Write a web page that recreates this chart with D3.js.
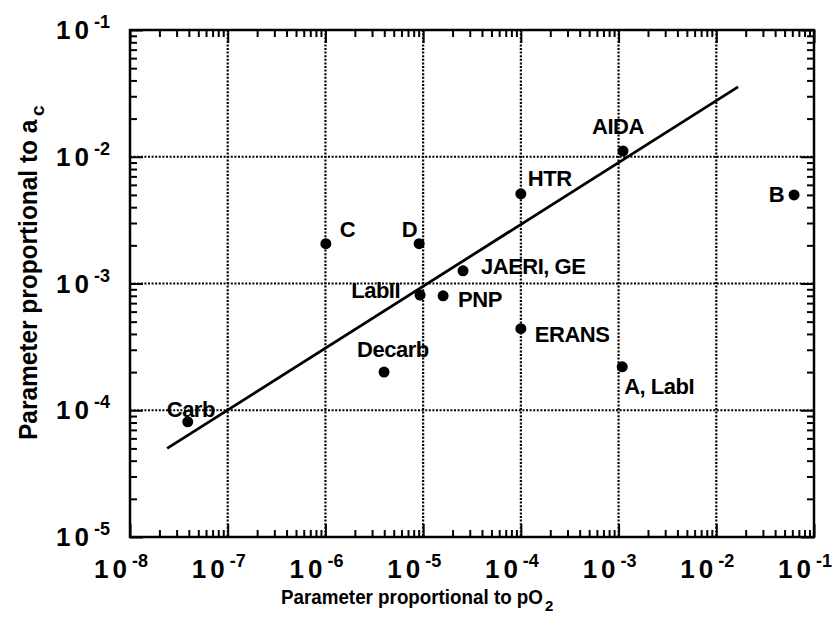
<!DOCTYPE html>
<html><head><meta charset="utf-8">
<script src="https://cdn.jsdelivr.net/npm/d3@7/dist/d3.min.js"></script>
<style>
html,body{margin:0;padding:0;background:#fff;}
svg text{font-family:"Liberation Sans",Arial,Helvetica,sans-serif;font-weight:bold;fill:#000;}
</style></head>
<body>
<svg id="chart" width="838" height="619"></svg>
<script>
// ---- data ----
const names = ["Carb","C","D","JAERI, GE","LabII","PNP","ERANS","Decarb","HTR","AIDA","B","A, LabI"];
const pO2   = [3.9e-8, 1.01e-6, 9.1e-6, 2.56e-5, 9.3e-6, 1.6e-5, 1.0e-4, 3.98e-6, 1.0e-4, 1.11e-3, 6.25e-2, 1.09e-3];
const ac    = [8.1e-5, 2.06e-3, 2.06e-3, 1.26e-3, 8.1e-4, 8.0e-4, 4.4e-4, 2.0e-4, 5.1e-3, 1.11e-2, 5.0e-3, 2.2e-4];
const fitLineX = [2.4e-8, 1.67e-2];
const fitLineY = [5.0e-5, 3.56e-2];
const xTickExps = [-8,-7,-6,-5,-4,-3,-2,-1];
const yTickExps = [-5,-4,-3,-2,-1];
const xTitle = ["Parameter proportional to pO", "2"];
const yTitle = ["Parameter proportional to a", "c"];

// ---- layout (not data) ----
const labelPlace = [
  {dx:-21, dy:-5, anchor:"start"},
  {dx:14, dy:-7, anchor:"start"},
  {dx:-2, dy:-7, anchor:"end"},
  {dx:18, dy:3, anchor:"start"},
  {dx:-20, dy:3, anchor:"end"},
  {dx:15, dy:11, anchor:"start"},
  {dx:14, dy:13, anchor:"start"},
  {dx:-27, dy:-15, anchor:"start"},
  {dx:7, dy:-8, anchor:"start"},
  {dx:-31, dy:-17, anchor:"start"},
  {dx:-10, dy:7, anchor:"end"},
  {dx:2, dy:27, anchor:"start"}
];

const L=130, R=814, T=30, B=537;
const svg = d3.select("#chart");
const x = d3.scaleLog().domain([1e-8,1e-1]).range([L,R]);
const y = d3.scaleLog().domain([1e-5,1e-1]).range([B,T]);

function minors(lo, hi){
  const out=[];
  for(let e=lo;e<hi;e++) for(let k=2;k<=9;k++) out.push(k*Math.pow(10,e));
  return out;
}
const xMajor = xTickExps.map(e=>Math.pow(10,e));
const yMajor = yTickExps.map(e=>Math.pow(10,e));
const xMinor = minors(-8,-1), yMinor = minors(-5,-1);

// grid
const grid = svg.append("g").attr("stroke","#000").attr("stroke-width",2.2).attr("stroke-dasharray","2,1.6");
grid.selectAll("line.gx").data(xMajor.slice(1,-1)).join("line")
  .attr("x1",d=>x(d)).attr("x2",d=>x(d)).attr("y1",T).attr("y2",B);
grid.selectAll("line.gy").data(yMajor.slice(1,-1)).join("line")
  .attr("y1",d=>y(d)).attr("y2",d=>y(d)).attr("x1",L).attr("x2",R);

// ticks (inward on all sides)
function styleAxis(g){ g.select(".domain").remove(); g.selectAll("text").remove(); g.selectAll("line").attr("stroke","#000").attr("stroke-width",2); }
svg.append("g").attr("transform",`translate(0,${B})`).call(d3.axisBottom(x).tickValues(xMinor).tickSize(-7)).call(styleAxis);
svg.append("g").attr("transform",`translate(0,${B})`).call(d3.axisBottom(x).tickValues(xMajor).tickSize(-13)).call(styleAxis);
svg.append("g").attr("transform",`translate(0,${T})`).call(d3.axisTop(x).tickValues(xMinor).tickSize(-7)).call(styleAxis);
svg.append("g").attr("transform",`translate(0,${T})`).call(d3.axisTop(x).tickValues(xMajor).tickSize(-13)).call(styleAxis);
svg.append("g").attr("transform",`translate(${L},0)`).call(d3.axisLeft(y).tickValues(yMinor).tickSize(-7)).call(styleAxis);
svg.append("g").attr("transform",`translate(${L},0)`).call(d3.axisLeft(y).tickValues(yMajor).tickSize(-13)).call(styleAxis);
svg.append("g").attr("transform",`translate(${R},0)`).call(d3.axisRight(y).tickValues(yMinor).tickSize(-7)).call(styleAxis);
svg.append("g").attr("transform",`translate(${R},0)`).call(d3.axisRight(y).tickValues(yMajor).tickSize(-13)).call(styleAxis);

// frame
svg.append("rect").attr("x",L).attr("y",T).attr("width",R-L).attr("height",B-T)
  .attr("fill","none").attr("stroke","#000").attr("stroke-width",2.5);

// tick labels: "10" plus a separate superscript exponent
function powLabel(g, px, py){
  g.append("text").attr("x",d=>px(d)).attr("y",d=>py(d)).attr("text-anchor","end")
    .attr("font-size",26).attr("letter-spacing",4).text("10");
  g.append("text").attr("x",d=>px(d)+1).attr("y",d=>py(d)-11)
    .attr("font-size",18).text(d=>String(Math.round(Math.log10(d))));
}
const xl = svg.append("g").selectAll("g").data(xMajor).join("g");
powLabel(xl, d=>x(d)+1, d=>578);
const yl = svg.append("g").selectAll("g").data(yMajor).join("g");
powLabel(yl, d=>93, d=>y(d)+9);

// axis titles (horizontally condensed like the original typeface)
svg.append("text").attr("transform","translate(281,604) scale(0.94,1)").attr("font-size",20).text(xTitle[0]);
svg.append("text").attr("x",545).attr("y",611).attr("font-size",15).text(xTitle[1]);
svg.append("text").attr("transform","translate(37,440) rotate(-90) scale(0.94,1)").attr("font-size",26).text(yTitle[0]);
svg.append("text").attr("transform","translate(44,116) rotate(-90)").attr("font-size",19).text(yTitle[1]);

// fit line
svg.append("line")
  .attr("x1",x(fitLineX[0])).attr("y1",y(fitLineY[0]))
  .attr("x2",x(fitLineX[1])).attr("y2",y(fitLineY[1]))
  .attr("stroke","#000").attr("stroke-width",2.8);

// points
const pts = names.map((n,i)=>({n, px:pO2[i], ac:ac[i], p:labelPlace[i]}));
svg.append("g").selectAll("circle").data(pts).join("circle")
  .attr("cx",d=>x(d.px)).attr("cy",d=>y(d.ac)).attr("r",5.5).attr("fill","#000");
svg.append("g").selectAll("text").data(pts).join("text")
  .attr("x",d=>x(d.px)+d.p.dx).attr("y",d=>y(d.ac)+d.p.dy)
  .attr("text-anchor",d=>d.p.anchor).attr("font-size",22).attr("letter-spacing",-0.5)
  .text(d=>d.n);
</script>
</body></html>
